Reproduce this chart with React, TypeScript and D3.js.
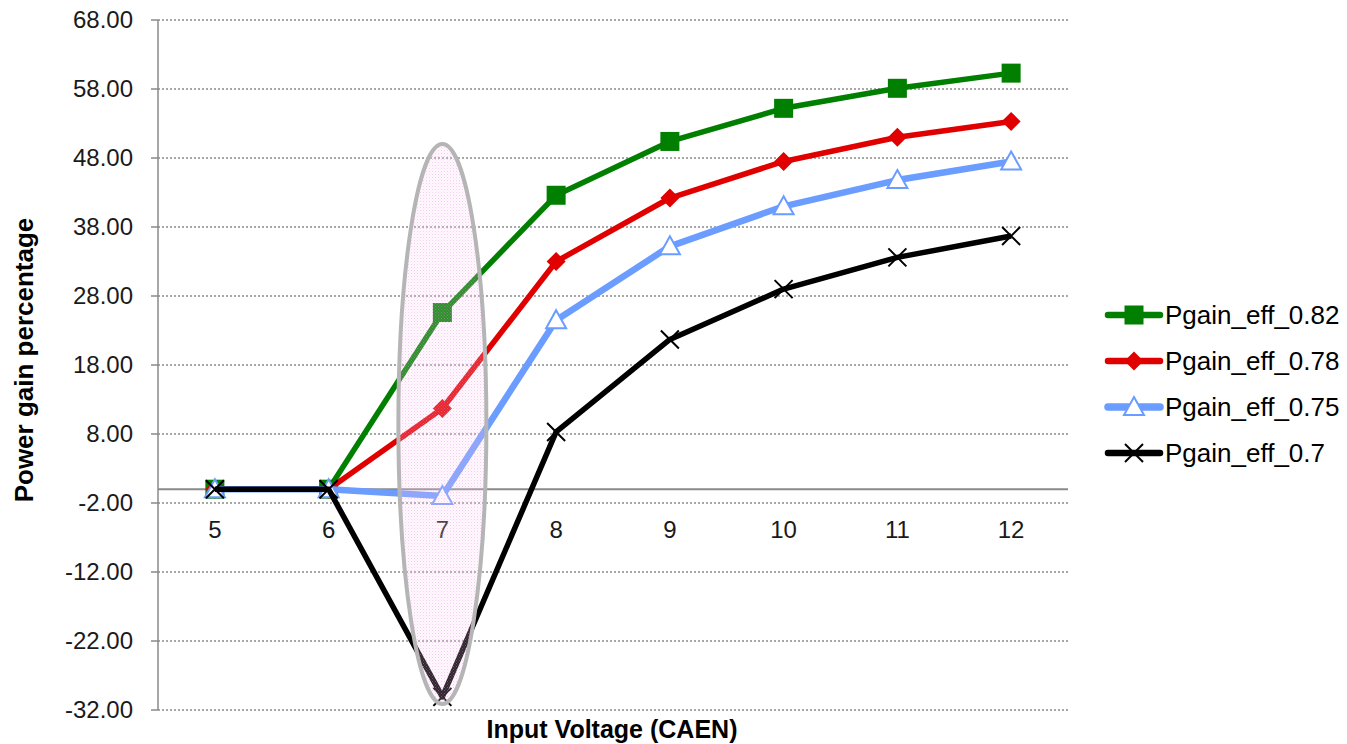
import React from "react";
import * as d3 from "d3";

const categories = ["5", "6", "7", "8", "9", "10", "11", "12"];
const pgain082 = [0, 0, 25.6, 42.6, 50.4, 55.2, 58.1, 60.3];
const pgain078 = [0, 0, 11.7, 33.0, 42.2, 47.5, 51.0, 53.3];
const pgain075 = [0, 0, -1.0, 24.5, 35.2, 41.0, 44.8, 47.5];
const pgain070 = [0, 0, -30.1, 8.3, 21.7, 29.0, 33.6, 36.7];
const yTicks = [68, 58, 48, 38, 28, 18, 8, -2, -12, -22, -32];

const series = [
  { name: "Pgain_eff_0.82", values: pgain082, color: "#007f00", marker: "square", width: 5.5 },
  { name: "Pgain_eff_0.78", values: pgain078, color: "#e00000", marker: "diamond", width: 5.5 },
  { name: "Pgain_eff_0.75", values: pgain075, color: "#6b9cff", marker: "triangle", width: 6.5 },
  { name: "Pgain_eff_0.7", values: pgain070, color: "#000000", marker: "x", width: 5.5 },
];

const W = 1347;
const H = 744;
const left = 158;
const right = 1068;
const top = 20;
const bottom = 710;

function Marker({ type, x, y, color }: { type: string; x: number; y: number; color: string }) {
  if (type === "square") {
    return <rect x={x - 9.5} y={y - 9.5} width={19} height={19} fill={color} />;
  }
  if (type === "diamond") {
    const r = 9.5;
    return <path d={`M${x},${y - r}L${x + r},${y}L${x},${y + r}L${x - r},${y}Z`} fill={color} />;
  }
  if (type === "triangle") {
    return (
      <path
        d={`M${x},${y - 10}L${x + 10},${y + 8}L${x - 10},${y + 8}Z`}
        fill="#ffffff"
        stroke={color}
        strokeWidth={2}
      />
    );
  }
  const r = 9;
  return (
    <path
      d={`M${x - r},${y - r}L${x + r},${y + r}M${x - r},${y + r}L${x + r},${y - r}`}
      stroke={color}
      strokeWidth={2}
    />
  );
}

export default function App() {
  const x = d3.scaleBand<string>().domain(categories).range([left, right]);
  const y = d3.scaleLinear().domain([-32, 68]).range([bottom, top]);
  const cx = (c: string) => (x(c) as number) + x.bandwidth() / 2;
  const line = d3
    .line<number>()
    .x((_, i) => cx(categories[i]))
    .y((v) => y(v));

  const font = "Liberation Sans, Arial, sans-serif";
  const ell = { cx: cx("7"), cy: 424, rx: 44, ry: 280 };

  return (
    <svg width={W} height={H} style={{ position: "absolute", left: 0, top: 0 }}>
      <defs>
        <pattern id="pinkDots" width={3} height={3} patternUnits="userSpaceOnUse">
          <rect width={3} height={3} fill="#ffd6f7" fillOpacity={0.18} />
          <rect x={0} y={0} width={1} height={1} fill="#e68fe4" fillOpacity={0.4} />
          <rect x={1.5} y={1.5} width={1} height={1} fill="#f3b5f0" fillOpacity={0.3} />
        </pattern>
      </defs>
      <rect width={W} height={H} fill="#ffffff" />

      {/* horizontal gridlines */}
      {yTicks.map((t) => (
        <line
          key={t}
          x1={left}
          x2={right}
          y1={y(t)}
          y2={y(t)}
          stroke="#8a8a8a"
          strokeWidth={1.3}
          strokeDasharray="2,2"
        />
      ))}

      {/* value axis */}
      <line x1={left} x2={left} y1={top} y2={bottom} stroke="#8a8a8a" strokeWidth={1.5} />
      {yTicks.map((t) => (
        <g key={"t" + t}>
          <line x1={left - 7} x2={left} y1={y(t)} y2={y(t)} stroke="#8a8a8a" strokeWidth={1.5} />
          <text
            x={133}
            y={y(t)}
            dy="0.35em"
            textAnchor="end"
            fontFamily={font}
            fontSize={24}
            fill="#1a1a1a"
          >
            {t.toFixed(2)}
          </text>
        </g>
      ))}

      {/* category axis at zero */}
      <line x1={left} x2={right} y1={y(0)} y2={y(0)} stroke="#8a8a8a" strokeWidth={2} />
      {categories.map((c) => (
        <text
          key={c}
          x={cx(c)}
          y={538}
          textAnchor="middle"
          fontFamily={font}
          fontSize={24}
          fill="#1a1a1a"
        >
          {c}
        </text>
      ))}

      {/* series lines and markers */}
      {series.map((s) => (
        <g key={s.name}>
          <path d={line(s.values) || ""} fill="none" stroke={s.color} strokeWidth={s.width} strokeLinejoin="round" />
          {s.values.map((v, i) => (
            <Marker key={i} type={s.marker} x={cx(categories[i])} y={y(v)} color={s.color} />
          ))}
        </g>
      ))}

      {/* highlight ellipse around 7 V */}
      <ellipse
        cx={ell.cx}
        cy={ell.cy}
        rx={ell.rx}
        ry={ell.ry}
        fill="url(#pinkDots)"
        stroke="#b5b5b5"
        strokeWidth={4}
      />

      {/* axis titles */}
      <text
        x={612}
        y={738}
        textAnchor="middle"
        fontFamily={font}
        fontSize={25}
        fontWeight="bold"
        fill="#000"
      >
        Input Voltage (CAEN)
      </text>
      <text
        transform="translate(33,360) rotate(-90)"
        textAnchor="middle"
        fontFamily={font}
        fontSize={26}
        fontWeight="bold"
        fill="#000"
      >
        Power gain percentage
      </text>

      {/* legend */}
      {series.map((s, i) => {
        const ly = 315 + i * 46;
        return (
          <g key={"l" + s.name}>
            <line x1={1108} x2={1160} y1={ly} y2={ly} stroke={s.color} strokeWidth={s.width + 1} strokeLinecap="round" />
            <Marker type={s.marker} x={1134} y={ly} color={s.color} />
            <text x={1165} y={ly} dy="0.35em" fontFamily={font} fontSize={26} fill="#000">
              {s.name}
            </text>
          </g>
        );
      })}
    </svg>
  );
}
